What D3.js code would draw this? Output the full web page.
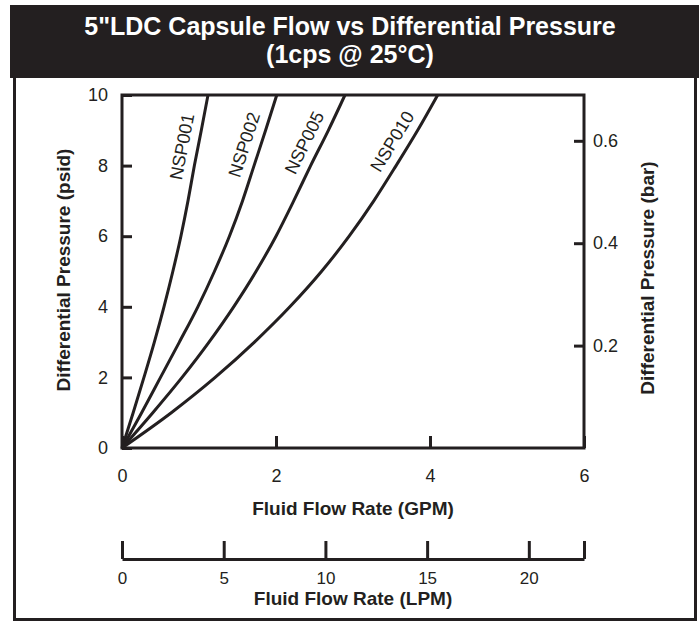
<!DOCTYPE html>
<html>
<head>
<meta charset="utf-8">
<script src="https://cdn.jsdelivr.net/npm/d3@7"></script>
<style>
  html, body { margin: 0; padding: 0; background: #fff; }
  svg { display: block; }
  text { font-family: "Liberation Sans", Arial, Helvetica, sans-serif; fill: #231f20; }
</style>
</head>
<body>
<svg id="chart" width="699" height="622"></svg>
<script>
// ---- data ----
const pressurePsi = [0, 1, 2, 3, 4, 5, 6, 7, 8, 9, 10];
const seriesNames = ["NSP001", "NSP002", "NSP005", "NSP010"];
const flowNSP001 = [0, 0.145, 0.285, 0.42, 0.545, 0.66, 0.765, 0.857, 0.94, 1.03, 1.117];
const flowNSP002 = [0, 0.255, 0.50, 0.745, 0.985, 1.20, 1.395, 1.565, 1.715, 1.865, 2.01];
const flowNSP005 = [0, 0.40, 0.78, 1.13, 1.45, 1.74, 2.00, 2.23, 2.45, 2.68, 2.896];
const flowNSP010 = [0, 0.64, 1.21, 1.72, 2.18, 2.59, 2.95, 3.27, 3.56, 3.84, 4.10];
const psiTicks = [0, 2, 4, 6, 8, 10];
const barTicks = [0.2, 0.4, 0.6];
const gpmTicks = [0, 2, 4, 6];
const lpmTicks = [0, 5, 10, 15, 20];
const titleLines = ["5\"LDC Capsule Flow vs Differential Pressure", "(1cps @ 25°C)"];
const xTitle = "Fluid Flow Rate (GPM)";
const lpmTitle = "Fluid Flow Rate (LPM)";
const yTitle = "Differential Pressure (psid)";
const y2Title = "Differential Pressure (bar)";

const PSI_TO_BAR = 0.0689476;
const GPM_TO_LPM = 3.785411784;
const INK = "#231f20";

(function () {
const svg = d3.select("#chart");

// header
svg.append("rect").attr("x", 10).attr("y", 5).attr("width", 689).attr("height", 73).attr("fill", INK);
svg.selectAll("text.title").data(titleLines).join("text")
  .attr("class", "title")
  .attr("x", 350).attr("y", (d, i) => 35 + i * 28)
  .attr("text-anchor", "middle")
  .style("fill", "#fff").style("font-weight", "bold").style("font-size", "25px")
  .text(d => d);

// outer frame
svg.append("path")
  .attr("d", "M14.5,78 V619.5 H695.5 V78")
  .attr("fill", "none").attr("stroke", INK).attr("stroke-width", 3);

// scales
const pLeft = 122, pRight = 584, pTop = 95, pBottom = 448;
const x = d3.scaleLinear().domain([0, 6]).range([pLeft, pRight]);
const y = d3.scaleLinear().domain([0, 10]).range([pBottom, pTop]);
const yBar = d3.scaleLinear().domain([0, 10 * PSI_TO_BAR]).range([pBottom, pTop]);
const xL = d3.scaleLinear().domain([0, 6 * GPM_TO_LPM]).range([pLeft, pRight]);

function styleAxis(g) {
  g.select(".domain").remove();
  g.selectAll(".tick line").attr("stroke", INK).attr("stroke-width", 3);
  g.selectAll(".tick text").style("font-size", "18px").style("fill", INK);
  g.attr("font-family", null).attr("font-size", null);
}

// left axis
svg.append("g").attr("transform", `translate(${pLeft},0)`)
  .call(d3.axisLeft(y).tickValues(psiTicks).tickSizeInner(-10).tickSizeOuter(0).tickPadding(14).tickFormat(d3.format("d")))
  .call(styleAxis);

// right axis (bar)
svg.append("g").attr("transform", `translate(${pRight},0)`)
  .call(d3.axisRight(yBar).tickValues(barTicks).tickSizeInner(-10).tickSizeOuter(0).tickPadding(9).tickFormat(d3.format(".1f")))
  .call(styleAxis);

// bottom axis (GPM)
svg.append("g").attr("transform", `translate(0,${pBottom})`)
  .call(d3.axisBottom(x).tickValues(gpmTicks).tickSizeInner(-12).tickSizeOuter(0).tickPadding(21).tickFormat(d3.format("d")))
  .call(styleAxis);

// plot box
svg.append("rect").attr("x", pLeft).attr("y", pTop).attr("width", pRight - pLeft).attr("height", pBottom - pTop)
  .attr("fill", "none").attr("stroke", INK).attr("stroke-width", 3);

// LPM axis
const lpmY = 559;
const lpmAll = lpmTicks.concat([6 * GPM_TO_LPM]);
const gL = svg.append("g").attr("transform", `translate(0,${lpmY})`)
  .call(d3.axisBottom(xL).tickValues(lpmAll).tickSizeInner(-18).tickSizeOuter(0).tickPadding(13)
    .tickFormat(d => lpmTicks.includes(d) ? d3.format("d")(d) : ""));
gL.select(".domain").attr("stroke", INK).attr("stroke-width", 3);
gL.selectAll(".tick line").attr("stroke", INK).attr("stroke-width", 3);
gL.selectAll(".tick text").style("font-size", "17px").style("fill", INK);
gL.attr("font-family", null).attr("font-size", null);

// axis titles
svg.append("text").attr("x", 353).attr("y", 515).attr("text-anchor", "middle")
  .style("font-weight", "bold").style("font-size", "19px").text(xTitle);
svg.append("text").attr("x", 353).attr("y", 605).attr("text-anchor", "middle")
  .style("font-weight", "bold").style("font-size", "19px").text(lpmTitle);
svg.append("text").attr("transform", "translate(63,270) rotate(-90)").attr("dy", "0.35em")
  .attr("text-anchor", "middle").style("font-weight", "bold").style("font-size", "19px").text(yTitle);
svg.append("text").attr("transform", "translate(647,278) rotate(-90)").attr("dy", "0.35em")
  .attr("text-anchor", "middle").style("font-weight", "bold").style("font-size", "19px").text(y2Title);

// curves
const flows = [flowNSP001, flowNSP002, flowNSP005, flowNSP010];
const series = seriesNames.map((name, i) => ({
  name,
  points: pressurePsi.map((p, j) => ({ q: flows[i][j], p }))
}));
const line = d3.line().x(d => x(d.q)).y(d => y(d.p)).curve(d3.curveMonotoneX);
svg.append("g").selectAll("path").data(series).join("path")
  .attr("d", d => line(d.points))
  .attr("fill", "none").attr("stroke", INK).attr("stroke-width", 3).attr("stroke-linejoin", "round");

// curve labels, placed alongside each curve
const labelP = 8.45, labelOffset = 16;
series.forEach(s => {
  const qs = s.points.map(d => d.q), ps = s.points.map(d => d.p);
  const qAt = d3.scaleLinear().domain(ps).range(qs);
  const px = x(qAt(labelP)), py = y(labelP);
  const px2 = x(qAt(labelP + 0.8)), py2 = y(labelP + 0.8);
  const px1 = x(qAt(labelP - 0.8)), py1 = y(labelP - 0.8);
  const ang = Math.atan2(py2 - py1, px2 - px1);
  const nx = Math.sin(ang), ny = -Math.cos(ang);
  const cx = px + nx * labelOffset, cy = py + ny * labelOffset;
  svg.append("text")
    .attr("transform", `translate(${cx},${cy}) rotate(${ang * 180 / Math.PI})`)
    .attr("text-anchor", "middle").attr("dy", "0.35em")
    .style("font-size", "18px").text(s.name);
});
})();
</script>
</body>
</html>
